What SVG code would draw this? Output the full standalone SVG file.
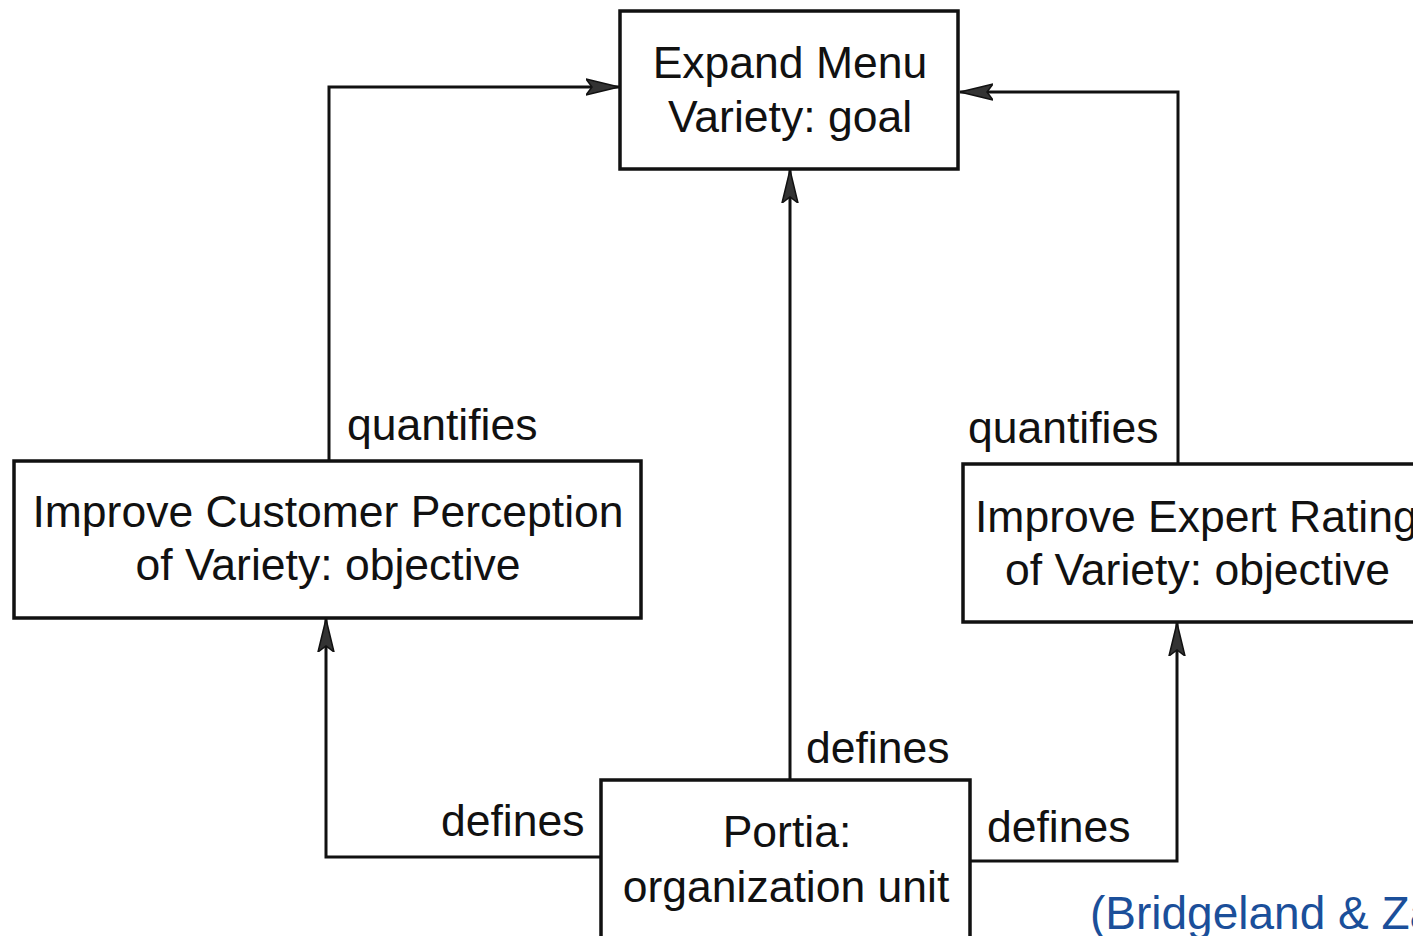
<svg xmlns="http://www.w3.org/2000/svg" width="1413" height="936" viewBox="0 0 1413 936">
<style>
.box{fill:#fff;stroke:#111;stroke-width:3.5}
.t{font-family:"Liberation Sans",Arial,sans-serif;font-size:44.5px;fill:#111}
.m{text-anchor:middle}
.c{fill:none;stroke:#111;stroke-width:3;marker-end:url(#ah)}
.cite{font-family:"Liberation Sans",Arial,sans-serif;font-size:46px;fill:#1b4f9a}
</style>
<defs>
<marker id="ah" markerUnits="userSpaceOnUse" markerWidth="34" markerHeight="20" viewBox="0 0 34 20" refX="33" refY="10" orient="auto">
<path d="M0,2 L33,10 L0,18 L6,10 Z" fill="#333" stroke="#111" stroke-width="1.5"/>
</marker>
</defs>
<rect width="1413" height="936" fill="#fff"/>
<g id="connectors">
<path class="c" d="M329,461 V87 H619"/>
<path class="c" d="M1178,464 V92 H960"/>
<path class="c" d="M790,780 V170"/>
<path class="c" d="M601,857 H326 V619"/>
<path class="c" d="M970,861 H1177 V623"/>
<text class="t" x="347" y="440">quantifies</text>
<text class="t" x="968" y="443">quantifies</text>
<text class="t" x="806" y="763">defines</text>
<text class="t" x="441" y="836">defines</text>
<text class="t" x="987" y="842">defines</text>
</g>
<g id="goal">
<rect class="box" x="620" y="11" width="338" height="158"/>
<text class="t m" x="790" y="78">Expand Menu</text>
<text class="t m" x="790" y="132">Variety: goal</text>
</g>
<g id="customer">
<rect class="box" x="14" y="461" width="627" height="157"/>
<text class="t m" x="328" y="527">Improve Customer Perception</text>
<text class="t m" x="328" y="580">of Variety: objective</text>
</g>
<g id="expert">
<rect class="box" x="963" y="464" width="460" height="158"/>
<text class="t" x="975" y="532">Improve Expert Rating</text>
<text class="t" x="1005" y="585">of Variety: objective</text>
</g>
<g id="portia">
<rect class="box" x="601" y="780" width="369" height="170"/>
<text class="t m" x="787" y="847">Portia:</text>
<text class="t m" x="786" y="902">organization unit</text>
</g>
<text class="cite" x="1090" y="929">(Bridgeland &amp; Za</text>
</svg>
